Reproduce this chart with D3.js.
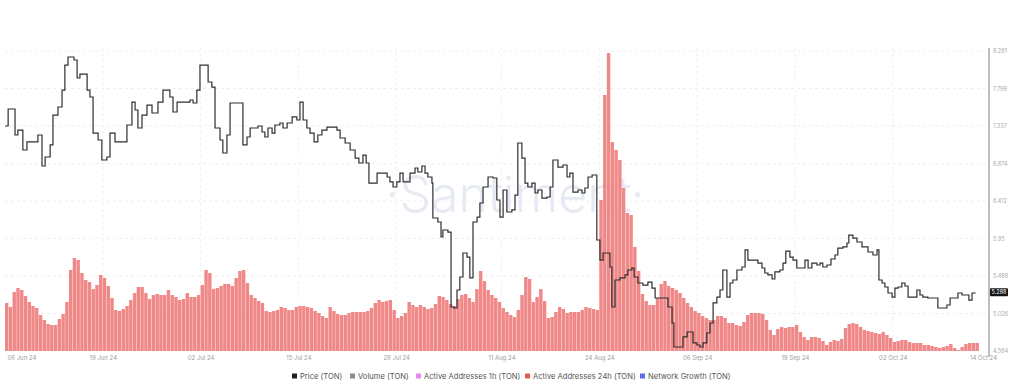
<!DOCTYPE html>
<html>
<head>
<meta charset="utf-8">
<script src="https://cdn.jsdelivr.net/npm/d3@7"></script>
<style>
  body { margin: 0; background: #fff; font-family: Inter, "Noto Sans", sans-serif; }
  svg { display: block; }
</style>
</head>
<body>
<script>
const width = 1024;
const height = 385;

// time origin of the series: 06 Jun 2024 00:00 UTC
const start = new Date(Date.UTC(2024, 5, 6));

// price (TON), hours since start
const priceHours = [
  0, 10, 32, 41, 57, 70, 105, 118, 128, 144, 153, 169, 182, 191, 201, 220, 230, 239, 262, 271,
  281, 297, 309, 325, 335, 351, 389, 405, 415, 424, 437, 453, 469, 488, 504, 526, 536, 549, 590, 600,
  612, 622, 648, 660, 670, 686, 695, 708, 718, 759, 772, 782, 807, 820, 829, 839, 852, 861, 877, 887,
  900, 916, 931, 941, 951, 963, 973, 986, 998, 1011, 1027, 1059, 1069, 1085, 1101, 1117, 1129, 1142, 1152, 1161,
  1187, 1219, 1228, 1238, 1250, 1260, 1270, 1292, 1308, 1317, 1330, 1340, 1349, 1362, 1365, 1381, 1391, 1397, 1413, 1423,
  1432, 1442, 1451, 1461, 1474, 1483, 1493, 1506, 1515, 1525, 1541, 1557, 1569, 1579, 1589, 1601, 1617, 1627, 1636, 1649,
  1659, 1668, 1681, 1691, 1700, 1713, 1729, 1739, 1748, 1764, 1780, 1793, 1802, 1812, 1828, 1841, 1850, 1860, 1873, 1888,
  1898, 1908, 1930, 1936, 1946, 1962, 1978, 1987, 2000, 2007, 2019, 2035, 2051, 2064, 2074, 2105, 2115, 2128, 2134, 2163,
  2176, 2195, 2207, 2217, 2227, 2239, 2249, 2259, 2271, 2281, 2290, 2303, 2313, 2322, 2335, 2351, 2361, 2370, 2393, 2402,
  2415, 2424, 2434, 2447, 2456, 2472, 2482, 2491, 2504, 2514, 2526, 2542, 2552, 2562, 2574, 2590, 2600, 2609, 2622, 2635,
  2648, 2657, 2673, 2686, 2692, 2705, 2718, 2734, 2753, 2769, 2782, 2788, 2798, 2807, 2817, 2830, 2839, 2849, 2861, 2871,
  2881, 2909, 2919, 2928, 2944, 2973, 2976, 2992, 3005, 3015, 3031, 3040, 3053, 3069, 3075, 3085, 3094
];
const priceValues = [
  7.337, 7.546, 7.226, 7.287, 7.041, 7.140, 7.226, 6.844, 6.955, 7.103, 7.472, 7.571, 7.780, 8.088, 8.187, 8.150, 7.928, 7.977, 7.780, 7.694,
  7.250, 7.164, 6.918, 6.955, 7.250, 7.140, 7.349, 7.632, 7.534, 7.312, 7.472, 7.595, 7.497, 7.632, 7.780, 7.694, 7.509, 7.632, 7.657, 7.620,
  7.780, 8.088, 7.879, 7.817, 7.312, 7.164, 7.004, 7.226, 7.620, 7.103, 7.201, 7.312, 7.337, 7.263, 7.201, 7.312, 7.250, 7.349, 7.374, 7.312,
  7.374, 7.448, 7.411, 7.632, 7.411, 7.312, 7.250, 7.140, 7.226, 7.287, 7.324, 7.287, 7.189, 7.127, 7.041, 6.942, 6.881, 6.979, 6.881, 6.634,
  6.757, 6.708, 6.647, 6.585, 6.647, 6.757, 6.647, 6.757, 6.819, 6.770, 6.844, 6.757, 6.708, 6.634, 6.203, 6.154, 5.969, 6.055, 6.030, 5.106,
  5.094, 5.316, 5.476, 5.772, 5.722, 5.464, 6.154, 6.215, 6.388, 6.585, 6.708, 6.696, 6.425, 6.215, 6.548, 6.277, 6.302, 6.486, 7.127, 6.942,
  6.634, 6.585, 6.634, 6.511, 6.548, 6.449, 6.462, 6.585, 6.918, 6.831, 6.856, 6.708, 6.757, 6.523, 6.548, 6.511, 6.573, 6.708, 6.733, 5.932,
  5.685, 5.772, 5.599, 5.106, 5.439, 5.464, 5.501, 5.562, 5.587, 5.476, 5.402, 5.377, 5.414, 5.340, 5.217, 5.217, 5.106, 4.909, 4.613, 4.737,
  4.798, 4.663, 4.638, 4.613, 4.663, 4.786, 4.909, 5.156, 5.229, 5.316, 5.562, 5.229, 5.402, 5.439, 5.562, 5.599, 5.809, 5.685, 5.685, 5.648,
  5.587, 5.525, 5.501, 5.451, 5.538, 5.562, 5.648, 5.796, 5.722, 5.685, 5.587, 5.587, 5.685, 5.587, 5.648, 5.624, 5.648, 5.599, 5.624, 5.698,
  5.747, 5.833, 5.846, 5.895, 5.993, 5.956, 5.907, 5.846, 5.784, 5.747, 5.809, 5.439, 5.402, 5.353, 5.279, 5.229, 5.340, 5.353, 5.402, 5.365,
  5.229, 5.316, 5.254, 5.229, 5.217, 5.217, 5.094, 5.094, 5.131, 5.217, 5.217, 5.279, 5.254, 5.254, 5.192, 5.279, 5.288
];

// active addresses 24h (TON), thousands, one value every 12 hours from start
const activeAddresses24h = [
  240, 220, 295, 315, 305, 275, 245, 225, 215, 180, 155, 135, 130, 130, 160, 185, 245, 405, 465, 455,
  390, 355, 345, 310, 330, 380, 365, 325, 265, 205, 200, 210, 225, 255, 290, 320, 320, 290, 260, 280,
  285, 280, 280, 305, 280, 270, 255, 260, 290, 270, 270, 280, 330, 405, 390, 310, 315, 325, 335, 335,
  325, 365, 400, 405, 340, 280, 265, 250, 240, 200, 195, 200, 205, 220, 215, 205, 205, 220, 225, 225,
  220, 215, 200, 190, 175, 165, 220, 200, 185, 180, 180, 190, 195, 195, 195, 195, 200, 215, 240, 255,
  245, 250, 255, 205, 165, 175, 190, 245, 230, 220, 230, 220, 210, 215, 235, 275, 270, 255, 235, 225,
  260, 280, 285, 265, 245, 310, 400, 350, 305, 280, 265, 245, 215, 195, 180, 170, 205, 280, 370, 360,
  245, 270, 310, 250, 165, 170, 195, 220, 210, 190, 195, 195, 195, 205, 220, 215, 210, 205, 755, 1280,
  1490, 1045, 1005, 955, 815, 690, 680, 520, 400, 285, 250, 230, 230, 265, 335, 350, 325, 315, 305, 290,
  265, 240, 220, 200, 190, 175, 165, 155, 155, 175, 175, 165, 140, 140, 130, 125, 145, 180, 190, 190,
  190, 185, 155, 105, 80, 110, 120, 115, 120, 120, 130, 95, 70, 55, 70, 70, 65, 50, 30, 45,
  55, 50, 60, 115, 135, 140, 135, 120, 105, 100, 95, 90, 85, 95, 80, 65, 45, 50, 55, 55,
  45, 40, 40, 40, 30, 30, 25, 20, 15, 20, 25, 35, 15, 5, 20, 35, 40, 40, 40
];

const xTickDates = [
  "2024-06-06", "2024-06-19", "2024-07-02", "2024-07-15", "2024-07-28", "2024-08-11",
  "2024-08-24", "2024-09-06", "2024-09-19", "2024-10-02", "2024-10-14"
];
const yTicks = [4.564, 5.026, 5.488, 5.95, 6.412, 6.874, 7.337, 7.799, 8.261];

const legendNames = ["Price (TON)", "Volume (TON)", "Active Addresses 1h (TON)", "Active Addresses 24h (TON)", "Network Growth (TON)"];
const legendColors = ["#1f1f1f", "#8c8c8c", "#e48ae4", "#e55a5a", "#5a6fe6"];

const plot = { left: 5, right: 983, top: 51, bottom: 351 };

let svg = d3.select("body").append("svg").attr("width", width).attr("height", height);

let x = d3.scaleUtc()
  .domain([start, new Date(Date.UTC(2024, 9, 14))])
  .range([plot.left, plot.right]);

let yPrice = d3.scaleLinear()
  .domain([yTicks[0], yTicks[yTicks.length - 1]])
  .range([plot.bottom, plot.top]);

let yAddr = d3.scaleLinear().domain([0, 1500]).range([plot.bottom, plot.top]);

const hour = 3600 * 1000;
const parse = d3.utcParse("%Y-%m-%d");
const tickDates = xTickDates.map(parse);

// grid
let grid = svg.append("g").attr("stroke", "#ececec").attr("stroke-dasharray", "3,3").attr("stroke-width", 0.8);
grid.selectAll(".hg")
  .data(yTicks.slice(1))
  .join("line")
  .attr("x1", plot.left)
  .attr("x2", 988)
  .attr("y1", (d) => yPrice(d))
  .attr("y2", (d) => yPrice(d));
grid.selectAll(".vg")
  .data(tickDates.slice(1, -1))
  .join("line")
  .attr("x1", (d) => x(d))
  .attr("x2", (d) => x(d))
  .attr("y1", plot.top - 4)
  .attr("y2", plot.bottom);

// watermark
svg.append("text")
  .text("·Santiment·")
  .attr("x", 515)
  .attr("y", 212)
  .attr("text-anchor", "middle")
  .style("font-size", "50px")
  .style("font-weight", 300)
  .style("fill", "#e6eaf2");

// active addresses 24h bars
const barStep = x(new Date(start.getTime() + 12 * hour)) - x(start);
svg.append("g")
  .selectAll("rect")
  .data(activeAddresses24h)
  .join("rect")
  .attr("x", (d, i) => x(new Date(start.getTime() + i * 12 * hour)))
  .attr("y", (d) => yAddr(d))
  .attr("width", barStep - 0.35)
  .attr("height", (d) => yAddr(0) - yAddr(d))
  .attr("fill", "#f08888");

// price line
let priceData = priceHours.map((h, i) => ({ t: new Date(start.getTime() + h * hour), v: priceValues[i] }));
svg.append("path")
  .datum(priceData)
  .attr("fill", "none")
  .attr("stroke", "#2e2e2e")
  .attr("stroke-width", 1.2)
  .attr("d", d3.line().x((d) => x(d.t)).y((d) => yPrice(d.v)).curve(d3.curveStepAfter));

// right axis
let rightAxis = svg.append("g")
  .attr("transform", "translate(989, 0)")
  .call(d3.axisRight(yPrice).tickValues(yTicks).tickSize(0).tickPadding(4).tickFormat((d) => String(d)));
rightAxis.select(".domain").remove();
rightAxis.append("line").attr("y1", 48).attr("y2", 357).attr("stroke", "#a8a8a8").attr("stroke-width", 1.5);
rightAxis.selectAll("text").style("font-size", "5.5px").style("fill", "#aaa").style("font-family", "Inter, sans-serif");

// last price label
const last = priceValues[priceValues.length - 1];
svg.append("rect")
  .attr("x", 990)
  .attr("y", yPrice(last) - 4)
  .attr("width", 18)
  .attr("height", 8)
  .attr("rx", 1)
  .attr("fill", "#151515");
svg.append("text")
  .text(last.toFixed(3))
  .attr("x", 999)
  .attr("y", yPrice(last) + 2)
  .attr("text-anchor", "middle")
  .style("font-size", "5.5px")
  .style("fill", "#fff");

// bottom axis
let bottomAxis = svg.append("g")
  .attr("transform", "translate(0, 351)")
  .call(d3.axisBottom(x).tickValues(tickDates).tickSize(0).tickPadding(5).tickFormat(d3.utcFormat("%d %b %y")));
bottomAxis.select(".domain").remove();
bottomAxis.selectAll("text")
  .style("font-size", "6px")
  .style("fill", "#a0a0a0")
  .style("font-family", "Inter, sans-serif")
  .attr("text-anchor", (d, i) => (i === 0 ? "start" : "middle"))
  .attr("dx", (d, i) => (i === 0 ? 2 : 0));

// legend
let legend = svg.append("g").attr("transform", "translate(292, 376)");
let offsets = [0, 58, 124, 233, 348];
let item = legend.selectAll("g")
  .data(legendNames)
  .join("g")
  .attr("transform", (d, i) => `translate(${offsets[i]}, 0)`);
item.append("rect")
  .attr("x", 0)
  .attr("y", -2.5)
  .attr("width", 5)
  .attr("height", 5)
  .attr("fill", (d, i) => legendColors[i]);
item.append("text")
  .text((d) => d)
  .attr("x", 8)
  .attr("y", 2.8)
  .style("font-size", "7.6px")
  .style("fill", "#555");
</script>
</body>
</html>
